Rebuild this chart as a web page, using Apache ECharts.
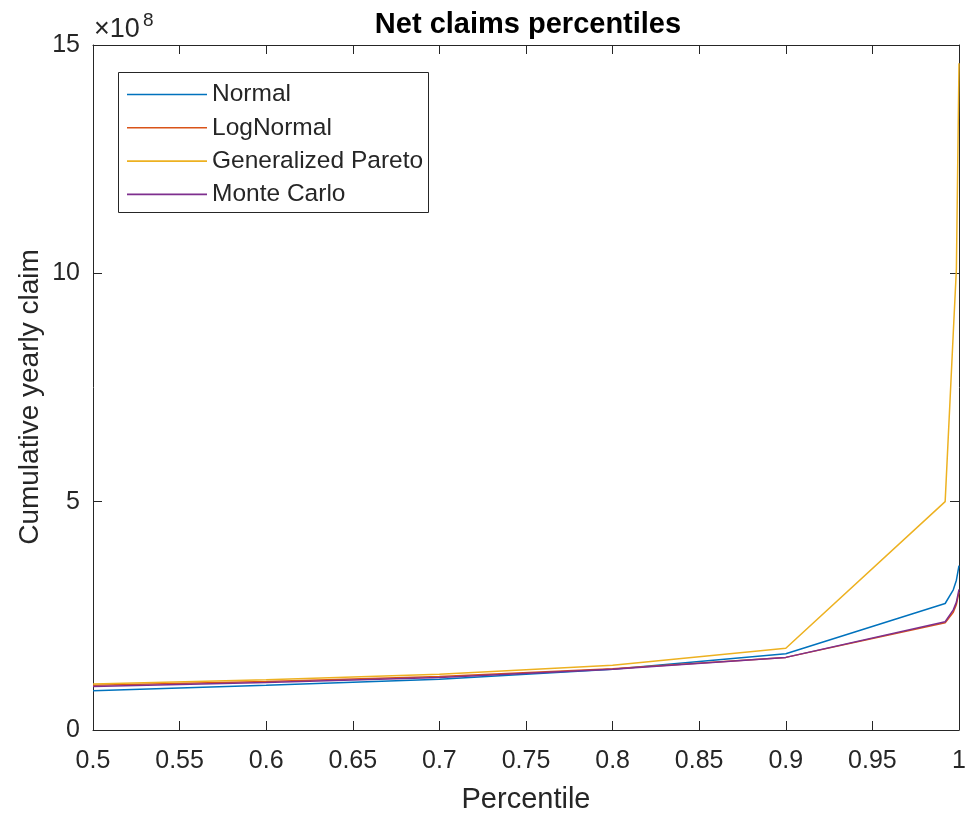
<!DOCTYPE html>
<html>
<head>
<meta charset="utf-8">
<script src="https://cdn.jsdelivr.net/npm/echarts@6/dist/echarts.min.js"></script>
<style>
html,body{margin:0;padding:0;background:#fff;}
#chart{width:968px;height:813px;}
</style>
</head>
<body>
<div id="chart"></div>
<script>
// Percentile levels (x) and cumulative yearly claims (units of 1e8)
const percentiles   = [0.5, 0.6, 0.7, 0.8, 0.9, 0.992, 0.9967, 0.9985, 1.0];
const normalVals    = [0.86, 0.98, 1.11, 1.33, 1.67, 2.77, 3.07, 3.28, 3.60];
const logNormalVals = [0.98, 1.06, 1.17, 1.34, 1.59, 2.35, 2.58, 2.75, 3.02];
const paretoVals    = [1.01, 1.10, 1.22, 1.42, 1.79, 5.00, 8.70, 10.10, 14.60];
const monteCarloVals= [0.95, 1.04, 1.15, 1.33, 1.59, 2.37, 2.63, 2.80, 3.08];
const seriesNames = ['Normal', 'LogNormal', 'Generalized Pareto', 'Monte Carlo'];
const seriesColors = ['#0072BD', '#D95319', '#EDB120', '#7E2F8E'];
const yTicks = [0, 5, 10, 15];

const FONT = 'Liberation Sans, Arial, Helvetica, sans-serif';
const AX = '#262626';
const allVals = [normalVals, logNormalVals, paretoVals, monteCarloVals];

const chart = echarts.init(document.getElementById('chart'), null, {renderer: 'canvas'});

function pairs(vals){ return percentiles.map((p, i) => [p, vals[i]]); }

const grid = {left: 93, right: 9, top: 45, bottom: 83, containLabel: false, outerBoundsMode: 'none'};
const tickStyle = {show: true, inside: true, length: 9, lineStyle: {color: AX, width: 1}};

const option = {
  backgroundColor: '#fff',
  animation: false,
  title: {
    text: 'Net claims percentiles',
    left: 523, top: 5, textAlign: 'center',
    textStyle: {fontFamily: FONT, fontSize: 29, fontWeight: 'bold', color: '#000'}
  },
  grid: grid,
  legend: {
    orient: 'vertical',
    left: 122, top: 77,
    itemWidth: 80, itemHeight: 1.6, itemGap: 8.3,
    icon: 'rect',
    data: seriesNames,
    textStyle: {fontFamily: FONT, fontSize: 24.5, lineHeight: 24, color: AX, padding: [0,0,0,0]},
    selectedMode: false
  },
  xAxis: [{
    type: 'value', min: 0.5, max: 1, interval: 0.05,
    name: 'Percentile', nameLocation: 'middle', nameGap: 55,
    nameTextStyle: {fontFamily: FONT, fontSize: 29, color: AX},
    axisLine: {show: true, onZero: false, lineStyle: {color: AX, width: 1}},
    axisTick: tickStyle,
    axisLabel: {fontFamily: FONT, fontSize: 25, color: AX, margin: 19,
      formatter: v => String(Math.round(v * 100) / 100)},
    splitLine: {show: false}
  }, {
    type: 'value', min: 0.5, max: 1, interval: 0.05, position: 'top',
    axisLine: {show: true, onZero: false, lineStyle: {color: AX, width: 1}},
    axisTick: tickStyle, axisLabel: {show: false}, splitLine: {show: false}
  }],
  yAxis: [{
    type: 'value', min: 0, max: 15, interval: 5,
    axisLine: {show: true, onZero: false, lineStyle: {color: AX, width: 1}},
    axisTick: tickStyle,
    axisLabel: {fontFamily: FONT, fontSize: 25, color: AX, margin: 13,
      formatter: v => yTicks.includes(v) ? String(v) : ''},
    splitLine: {show: false}
  }, {
    type: 'value', min: 0, max: 15, interval: 5, position: 'right',
    axisLine: {show: true, onZero: false, lineStyle: {color: AX, width: 1}},
    axisTick: tickStyle, axisLabel: {show: false}, splitLine: {show: false}
  }],
  graphic: [
    {
      type: 'rect', left: 118, top: 72, z: 1,
      shape: {width: 310, height: 140},
      style: {fill: '#fff', stroke: AX, lineWidth: 1}
    },
    {
      type: 'text', x: 30, y: 397, rotation: Math.PI / 2, z: 10,
      style: {text: 'Cumulative yearly claim', fontFamily: FONT, fontSize: 28, fill: AX,
        textAlign: 'center', textVerticalAlign: 'middle'}
    },
    {
      type: 'text', x: 94, y: 30, z: 10,
      style: {text: '×10', fontFamily: FONT, fontSize: 27, fill: AX,
        textAlign: 'left', textVerticalAlign: 'middle'}
    },
    {
      type: 'text', x: 143, y: 21, z: 10,
      style: {text: '8', fontFamily: FONT, fontSize: 19, fill: AX,
        textAlign: 'left', textVerticalAlign: 'middle'}
    }
  ],
  series: seriesNames.map((name, i) => ({
    name: name,
    type: 'line',
    xAxisIndex: 0, yAxisIndex: 0,
    data: pairs(allVals[i]),
    showSymbol: false, symbol: 'none',
    lineStyle: {color: seriesColors[i], width: 1.5},
    itemStyle: {color: seriesColors[i]},
    z: 2 + i
  }))
};
chart.setOption(option);
</script>
</body>
</html>
